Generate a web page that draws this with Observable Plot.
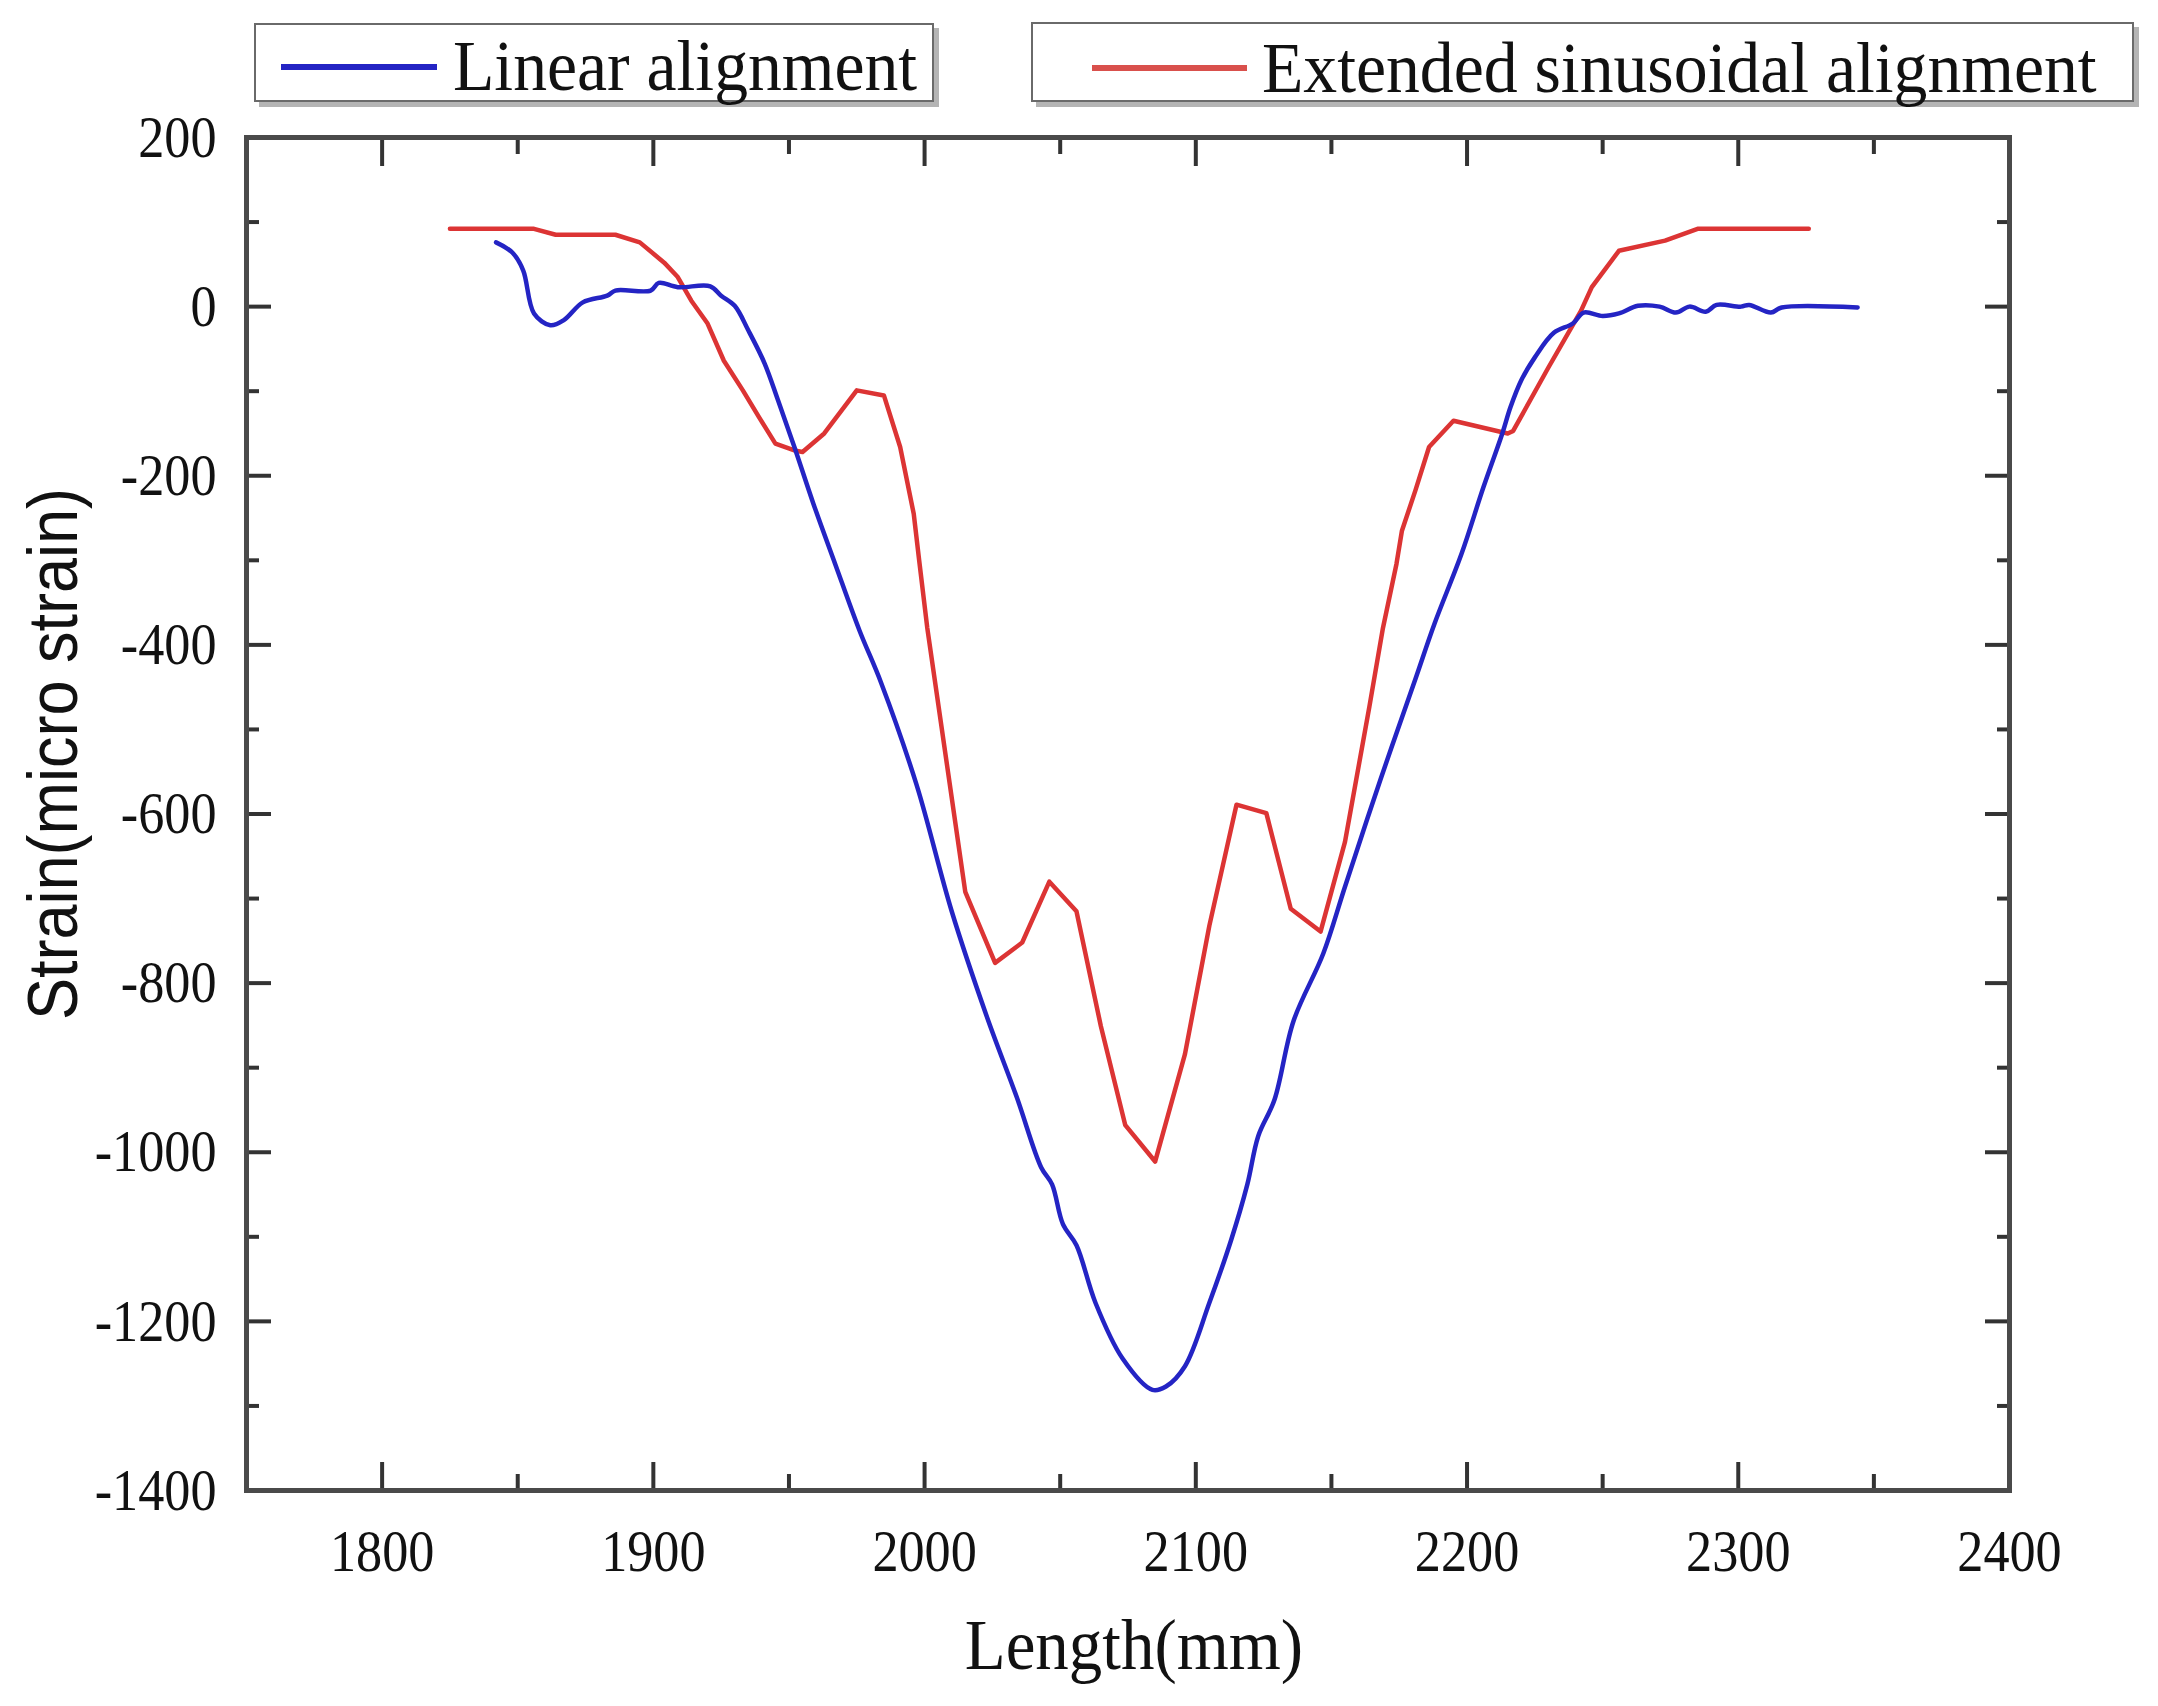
<!DOCTYPE html>
<html>
<head>
<meta charset="utf-8">
<script src="https://cdn.jsdelivr.net/npm/d3@7"></script>
<script src="https://cdn.jsdelivr.net/npm/@observablehq/plot@0.6"></script>
<style>
  html, body { margin: 0; padding: 0; background: #fff; }
  #wrap { position: relative; width: 2158px; height: 1706px; overflow: hidden; background: #fff; }
  .lg { position: absolute; box-sizing: border-box; border: 2px solid #6a6a6a; background: #fff; box-shadow: 5px 5px 0 #b4b4b4; }
  .sw { position: absolute; height: 6px; }
  .lt { position: absolute; font-family: "Liberation Serif", "Times New Roman", serif; font-size: 72px; line-height: 72px; color: #111; white-space: nowrap; transform-origin: left center; transform: scaleX(0.94); }
  #xt { position: absolute; font-family: "Liberation Serif", serif; font-size: 72px; line-height: 72px; color: #111; white-space: nowrap; }
  #yt { position: absolute; font-family: "Liberation Sans", Arial, sans-serif; font-size: 70px; line-height: 70px; color: #111; white-space: nowrap; }
</style>
</head>
<body>
<div id="wrap"></div>
<script>
// ---- data ----
const seriesNames = ["Linear alignment", "Extended sinusoidal alignment"];
const seriesColors = ["#2424c4", "#dc3434"];

const linearLength = [1842,1848,1852,1856,1862,1867,1874,1883,1886,1899,1902,1909,1921,1925,1930,1935,1941,1946,1952,1959,1967,1976,1984,1997,2010,2023,2034,2043,2047,2051,2056,2063,2073,2084,2089,2096,2105,2113,2119,2123,2129,2136,2147,2155,2168,2181,2188,2198,2206,2213,2216,2220,2225,2232,2239,2243,2250,2256,2263,2271,2277,2282,2288,2292,2301,2304,2312,2316,2344];
const linearStrain = [76,64,43,-8,-22,-16,5,13,19,19,28,23,24,13,1,-28,-67,-111,-166,-233,-304,-383,-445,-565,-715,-840,-935,-1018,-1038,-1085,-1110,-1178,-1244,-1281,-1277,-1253,-1178,-1104,-1038,-981,-938,-845,-765,-686,-560,-440,-375,-292,-214,-150,-119,-87,-60,-31,-20,-7,-11,-8,1,0,-7,0,-6,2,0,2,-7,-1,-1];

const sinLength = [1825,1856,1864,1886,1895,1904,1909,1914,1920,1926,1933,1939,1945,1952,1955,1963,1975,1985,1991,1996,1998,2001,2015,2026,2036,2046,2056,2065,2074,2085,2096,2105,2115,2126,2135,2146,2155,2164,2169,2174,2176,2181,2186,2195,2215,2217,2230,2242,2246,2256,2273,2285,2326];
const sinStrain = [92,92,85,85,76,52,35,7,-20,-64,-99,-131,-162,-170,-172,-150,-99,-105,-166,-245,-300,-380,-692,-776,-752,-680,-715,-851,-968,-1011,-884,-732,-589,-599,-712,-739,-633,-473,-380,-304,-265,-217,-166,-135,-150,-147,-72,-5,23,66,78,92,92];

const xMajorTicks = [1800, 1900, 2000, 2100, 2200, 2300, 2400];
const xMinorTicks = [1750, 1850, 1950, 2050, 2150, 2250, 2350];
const yMajorTicks = [200, 0, -200, -400, -600, -800, -1000, -1200, -1400];
const yMinorTicks = [100, -100, -300, -500, -700, -900, -1100, -1300];
const xDomain = [1750, 2400];
const yDomain = [-1400, 200];
const xTitle = "Length(mm)";
const yTitle = "Strain(micro strain)";

// ---- build ----
const linearData = linearLength.map((x, i) => ({x, y: linearStrain[i]}));
const sinData = sinLength.map((x, i) => ({x, y: sinStrain[i]}));

const tickStroke = "#333";
const plot = Plot.plot({
  width: 2158,
  height: 1706,
  marginLeft: 246,
  marginRight: 149,
  marginTop: 137,
  marginBottom: 216,
  style: {background: "#fff", fontFamily: "'Liberation Serif', 'Times New Roman', serif", color: "#111"},
  x: {domain: xDomain, label: null},
  y: {domain: yDomain, label: null},
  marks: [
    Plot.line(sinData, {x: "x", y: "y", stroke: seriesColors[1], strokeWidth: 4.5, strokeLinejoin: "round"}),
    Plot.line(linearData, {x: "x", y: "y", stroke: seriesColors[0], strokeWidth: 4.5, curve: "catmull-rom"}),
    Plot.axisX({anchor: "bottom", ticks: xMajorTicks, tickSize: -28, tickPadding: 66, tickFormat: d => String(d), fontSize: 60, stroke: tickStroke, strokeWidth: 4, label: null}),
    Plot.axisX({anchor: "bottom", ticks: xMinorTicks, tickSize: -16, tickFormat: () => "", stroke: tickStroke, strokeWidth: 4, label: null}),
    Plot.axisX({anchor: "top", ticks: xMajorTicks, tickSize: -28, tickFormat: () => "", stroke: tickStroke, strokeWidth: 4, label: null}),
    Plot.axisX({anchor: "top", ticks: xMinorTicks, tickSize: -16, tickFormat: () => "", stroke: tickStroke, strokeWidth: 4, label: null}),
    Plot.axisY({anchor: "left", ticks: yMajorTicks, tickSize: -25, tickPadding: 55, tickFormat: d => String(d), fontSize: 60, stroke: tickStroke, strokeWidth: 4, label: null}),
    Plot.axisY({anchor: "left", ticks: yMinorTicks, tickSize: -13, tickFormat: () => "", stroke: tickStroke, strokeWidth: 4, label: null}),
    Plot.axisY({anchor: "right", ticks: yMajorTicks, tickSize: -25, tickFormat: () => "", stroke: tickStroke, strokeWidth: 4, label: null}),
    Plot.axisY({anchor: "right", ticks: yMinorTicks, tickSize: -13, tickFormat: () => "", stroke: tickStroke, strokeWidth: 4, label: null}),
    Plot.frame({stroke: "#4a4a4a", strokeWidth: 5})
  ]
});

const wrap = document.getElementById("wrap");
plot.style.position = "absolute";
plot.style.left = "0px";
plot.style.top = "0px";
wrap.appendChild(plot);

// condense tick labels like the reference
plot.querySelectorAll('g[aria-label$="tick label"] text').forEach(t => {
  if (!t.textContent) return;
  const w = t.getComputedTextLength();
  t.setAttribute("textLength", (w * 0.87).toFixed(1));
  t.setAttribute("lengthAdjust", "spacingAndGlyphs");
});

// legend boxes
function legendBox(left, top, w, h, color, swLeft, swWidth, swTop, textLeft, textTop, label) {
  const box = document.createElement("div");
  box.className = "lg";
  Object.assign(box.style, {left: left + "px", top: top + "px", width: w + "px", height: h + "px"});
  wrap.appendChild(box);
  const sw = document.createElement("div");
  sw.className = "sw";
  Object.assign(sw.style, {left: swLeft + "px", top: swTop + "px", width: swWidth + "px", background: color});
  wrap.appendChild(sw);
  const t = document.createElement("div");
  t.className = "lt";
  t.textContent = label;
  Object.assign(t.style, {left: textLeft + "px", top: textTop + "px"});
  wrap.appendChild(t);
}
legendBox(254, 23, 680, 79, seriesColors[0], 281, 156, 64, 453, 30, seriesNames[0]);
legendBox(1031, 22, 1103, 80, "#d9504c", 1092, 155, 65, 1262, 32, seriesNames[1]);

// axis titles
const xt = document.createElement("div");
xt.id = "xt";
xt.textContent = xTitle;
wrap.appendChild(xt);
const xw = xt.getBoundingClientRect().width;
Object.assign(xt.style, {left: (1134 - xw / 2) + "px", top: "1609px", transformOrigin: "center", transform: "scaleX(0.93)"});

const yt = document.createElement("div");
yt.id = "yt";
yt.textContent = yTitle;
wrap.appendChild(yt);
const yr = yt.getBoundingClientRect();
Object.assign(yt.style, {left: (53 - yr.width / 2) + "px", top: (754 - yr.height / 2) + "px", transformOrigin: "center", transform: "rotate(-90deg) scaleX(0.9)"});
</script>
</body>
</html>
